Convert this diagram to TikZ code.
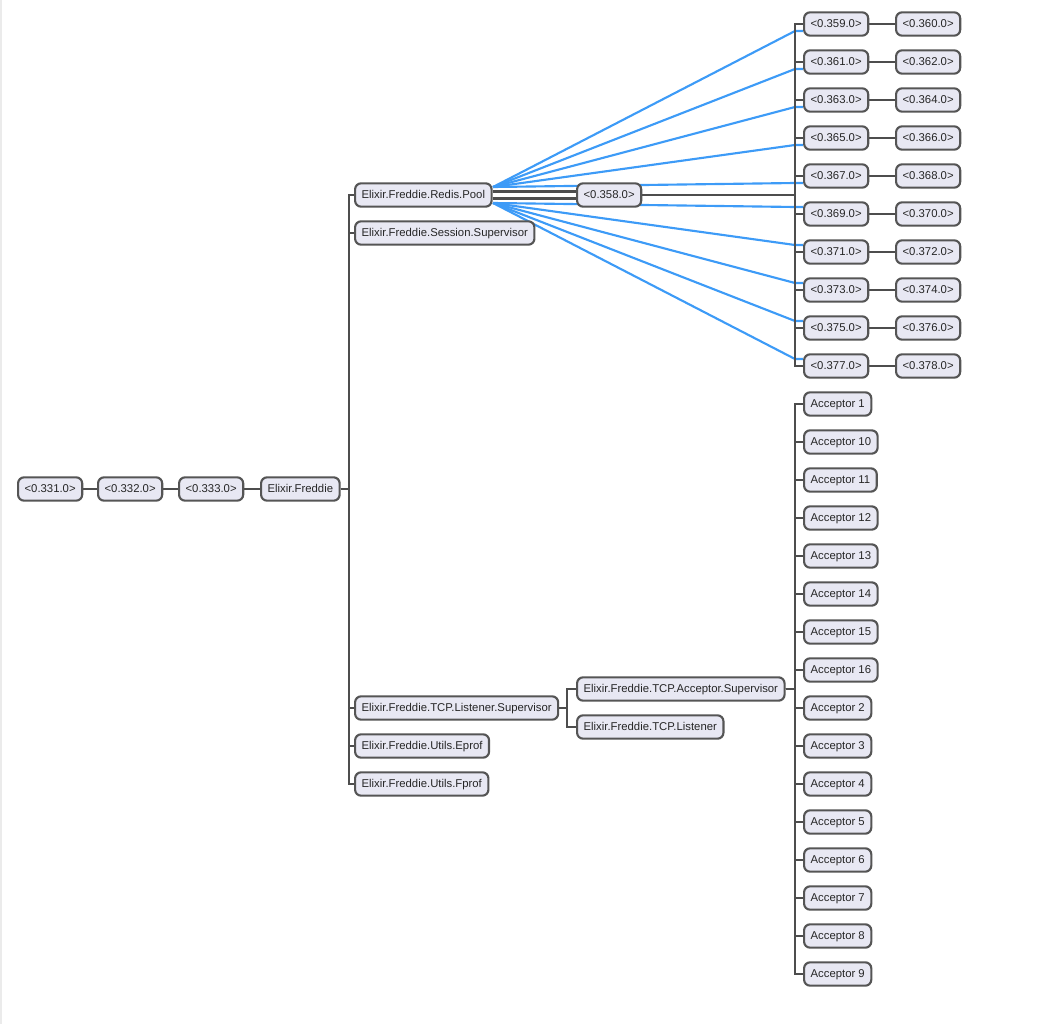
\documentclass[tikz,border=0pt]{standalone}
\usepackage{fontspec}
\setmainfont{Liberation Sans}
\usetikzlibrary{backgrounds}
\definecolor{boxfill}{HTML}{E8E8F3}
\definecolor{boxline}{HTML}{555555}
\definecolor{treeline}{HTML}{4D4D4D}
\definecolor{linkblue}{HTML}{3D9BF7}

\begin{document}
\begin{tikzpicture}[x=0.75pt,y=-0.75pt,
		proc node/.style={draw=boxline,fill=boxfill,line width=1.6pt,rounded corners=4.5pt,
			anchor=west,minimum height=17.5pt,inner xsep=4.9pt,inner ysep=0pt,
			text height=6.2pt,text depth=0.5pt,
			font=\fontsize{8.5}{10}\selectfont,text=black!85},
		tree edge/.style={draw=treeline,line width=1.7pt},
		link edge/.style={draw=linkblue,line width=1.6pt}]
		\useasboundingbox (0,0) rectangle (1042,1024);
		\draw[black!8,line width=1.5pt] (1,0) -- (1,1024);
		% root chain
		\node[proc node] (p331) at (17,489) {<0.331.0>};
		\node[proc node] (p332) at (97,489) {<0.332.0>};
		\node[proc node] (p333) at (178,489) {<0.333.0>};
		\node[proc node] (freddie) at (260,489) {Elixir.Freddie};
		% application children
		\node[proc node] (pool) at (354,195) {Elixir.Freddie.Redis.Pool};
		\node[proc node] (session) at (354,233) {Elixir.Freddie.Session.Supervisor};
		\node[proc node] (lsup) at (354,708) {Elixir.Freddie.TCP.Listener.Supervisor};
		\node[proc node] (eprof) at (354,746) {Elixir.Freddie.Utils.Eprof};
		\node[proc node] (fprof) at (354,784) {Elixir.Freddie.Utils.Fprof};
		% redis pool
		\node[proc node] (p358) at (576,195) {<0.358.0>};
		\coordinate (bus) at (795,0);
		\coordinate (pool up) at (493,187);
		\coordinate (pool dn) at (493,203);
		\node[proc node] (p359) at (803,24) {<0.359.0>};
		\node[proc node] (p361) at (803,62) {<0.361.0>};
		\node[proc node] (p363) at (803,100) {<0.363.0>};
		\node[proc node] (p365) at (803,138) {<0.365.0>};
		\node[proc node] (p367) at (803,176) {<0.367.0>};
		\node[proc node] (p369) at (803,214) {<0.369.0>};
		\node[proc node] (p371) at (803,252) {<0.371.0>};
		\node[proc node] (p373) at (803,290) {<0.373.0>};
		\node[proc node] (p375) at (803,328) {<0.375.0>};
		\node[proc node] (p377) at (803,366) {<0.377.0>};
		\node[proc node] (p360) at (895,24) {<0.360.0>};
		\node[proc node] (p362) at (895,62) {<0.362.0>};
		\node[proc node] (p364) at (895,100) {<0.364.0>};
		\node[proc node] (p366) at (895,138) {<0.366.0>};
		\node[proc node] (p368) at (895,176) {<0.368.0>};
		\node[proc node] (p370) at (895,214) {<0.370.0>};
		\node[proc node] (p372) at (895,252) {<0.372.0>};
		\node[proc node] (p374) at (895,290) {<0.374.0>};
		\node[proc node] (p376) at (895,328) {<0.376.0>};
		\node[proc node] (p378) at (895,366) {<0.378.0>};
		% tcp listener
		\node[proc node] (asup) at (576,689) {Elixir.Freddie.TCP.Acceptor.Supervisor};
		\node[proc node] (listener) at (576,727) {Elixir.Freddie.TCP.Listener};
		% acceptors
		\node[proc node] (a1) at (803,404) {Acceptor 1};
		\node[proc node] (a10) at (803,442) {Acceptor 10};
		\node[proc node] (a11) at (803,480) {Acceptor 11};
		\node[proc node] (a12) at (803,518) {Acceptor 12};
		\node[proc node] (a13) at (803,556) {Acceptor 13};
		\node[proc node] (a14) at (803,594) {Acceptor 14};
		\node[proc node] (a15) at (803,632) {Acceptor 15};
		\node[proc node] (a16) at (803,670) {Acceptor 16};
		\node[proc node] (a2) at (803,708) {Acceptor 2};
		\node[proc node] (a3) at (803,746) {Acceptor 3};
		\node[proc node] (a4) at (803,784) {Acceptor 4};
		\node[proc node] (a5) at (803,822) {Acceptor 5};
		\node[proc node] (a6) at (803,860) {Acceptor 6};
		\node[proc node] (a7) at (803,898) {Acceptor 7};
		\node[proc node] (a8) at (803,936) {Acceptor 8};
		\node[proc node] (a9) at (803,974) {Acceptor 9};

		\begin{pgfonlayer}{background}
		% links from the pool
		\draw[link edge] ([yshift=-5.25pt]p359.west) -- ++(-8,0) -- (pool up);
		\draw[link edge] ([yshift=-5.25pt]p361.west) -- ++(-8,0) -- (pool up);
		\draw[link edge] ([yshift=-5.25pt]p363.west) -- ++(-8,0) -- (pool up);
		\draw[link edge] ([yshift=-5.25pt]p365.west) -- ++(-8,0) -- (pool up);
		\draw[link edge] ([yshift=-5.25pt]p367.west) -- ++(-8,0) -- (pool up);
		\draw[link edge] ([yshift=5.25pt]p369.west) -- ++(-8,0) -- (pool dn);
		\draw[link edge] ([yshift=5.25pt]p371.west) -- ++(-8,0) -- (pool dn);
		\draw[link edge] ([yshift=5.25pt]p373.west) -- ++(-8,0) -- (pool dn);
		\draw[link edge] ([yshift=5.25pt]p375.west) -- ++(-8,0) -- (pool dn);
		\draw[link edge] ([yshift=5.25pt]p377.west) -- ++(-8,0) -- (pool dn);
		% supervision tree
		\draw[tree edge] (p331.east) -- (p332.west);
		\draw[tree edge] (p332.east) -- (p333.west);
		\draw[tree edge] (p333.east) -- (freddie.west);
		\draw[tree edge] (freddie.east) -- ++(8,0) |- (pool.west);
		\draw[tree edge] (freddie.east) -- ++(8,0) |- (session.west);
		\draw[tree edge] (freddie.east) -- ++(8,0) |- (lsup.west);
		\draw[tree edge] (freddie.east) -- ++(8,0) |- (eprof.west);
		\draw[tree edge] (freddie.east) -- ++(8,0) |- (fprof.west);
		\draw[tree edge] ([yshift=2.6pt]pool.east) -- ([yshift=2.6pt]p358.west);
		\draw[tree edge] ([yshift=-2.6pt]pool.east) -- ([yshift=-2.6pt]p358.west);
		\draw[tree edge] (p358.east) -- (p358.east -| bus) |- (p359.west);
		\draw[tree edge] (p358.east) -- (p358.east -| bus) |- (p361.west);
		\draw[tree edge] (p358.east) -- (p358.east -| bus) |- (p363.west);
		\draw[tree edge] (p358.east) -- (p358.east -| bus) |- (p365.west);
		\draw[tree edge] (p358.east) -- (p358.east -| bus) |- (p367.west);
		\draw[tree edge] (p358.east) -- (p358.east -| bus) |- (p369.west);
		\draw[tree edge] (p358.east) -- (p358.east -| bus) |- (p371.west);
		\draw[tree edge] (p358.east) -- (p358.east -| bus) |- (p373.west);
		\draw[tree edge] (p358.east) -- (p358.east -| bus) |- (p375.west);
		\draw[tree edge] (p358.east) -- (p358.east -| bus) |- (p377.west);
		\draw[tree edge] (p359.east) -- (p360.west);
		\draw[tree edge] (p361.east) -- (p362.west);
		\draw[tree edge] (p363.east) -- (p364.west);
		\draw[tree edge] (p365.east) -- (p366.west);
		\draw[tree edge] (p367.east) -- (p368.west);
		\draw[tree edge] (p369.east) -- (p370.west);
		\draw[tree edge] (p371.east) -- (p372.west);
		\draw[tree edge] (p373.east) -- (p374.west);
		\draw[tree edge] (p375.east) -- (p376.west);
		\draw[tree edge] (p377.east) -- (p378.west);
		\draw[tree edge] (lsup.east) -- ++(8,0) |- (asup.west);
		\draw[tree edge] (lsup.east) -- ++(8,0) |- (listener.west);
		\draw[tree edge] (asup.east) -- (asup.east -| bus) |- (a1.west);
		\draw[tree edge] (asup.east) -- (asup.east -| bus) |- (a10.west);
		\draw[tree edge] (asup.east) -- (asup.east -| bus) |- (a11.west);
		\draw[tree edge] (asup.east) -- (asup.east -| bus) |- (a12.west);
		\draw[tree edge] (asup.east) -- (asup.east -| bus) |- (a13.west);
		\draw[tree edge] (asup.east) -- (asup.east -| bus) |- (a14.west);
		\draw[tree edge] (asup.east) -- (asup.east -| bus) |- (a15.west);
		\draw[tree edge] (asup.east) -- (asup.east -| bus) |- (a16.west);
		\draw[tree edge] (asup.east) -- (asup.east -| bus) |- (a2.west);
		\draw[tree edge] (asup.east) -- (asup.east -| bus) |- (a3.west);
		\draw[tree edge] (asup.east) -- (asup.east -| bus) |- (a4.west);
		\draw[tree edge] (asup.east) -- (asup.east -| bus) |- (a5.west);
		\draw[tree edge] (asup.east) -- (asup.east -| bus) |- (a6.west);
		\draw[tree edge] (asup.east) -- (asup.east -| bus) |- (a7.west);
		\draw[tree edge] (asup.east) -- (asup.east -| bus) |- (a8.west);
		\draw[tree edge] (asup.east) -- (asup.east -| bus) |- (a9.west);
		\end{pgfonlayer}
	\end{tikzpicture}
\end{document}
